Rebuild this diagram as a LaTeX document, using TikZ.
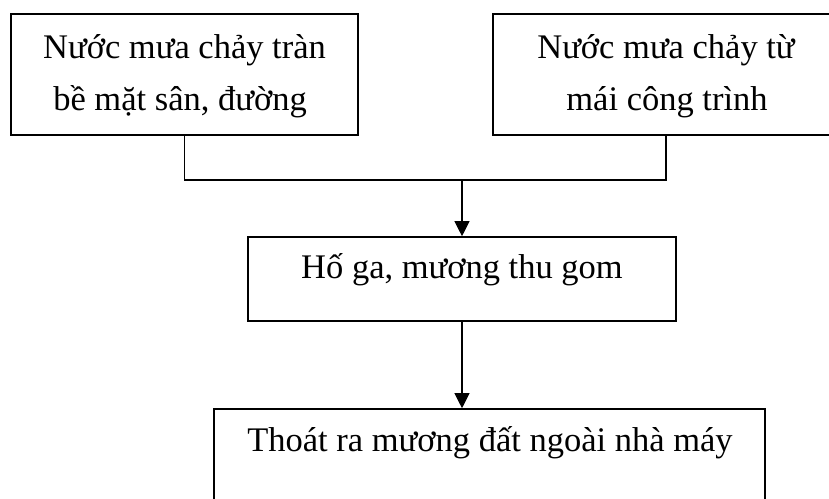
\documentclass[tikz,border=0pt]{standalone}
\usepackage{fontspec}
\setmainfont{Liberation Serif}
\usetikzlibrary{arrows.meta}
\begin{document}
\begin{tikzpicture}[x=1pt,y=-1pt,
  box/.style={draw, line width=1.6pt, minimum width=#1, inner sep=0pt},
  txt/.style={anchor=base, inner sep=0pt, font=\fontsize{34.5}{52}\selectfont},
  conn/.style={line width=1.1pt},
  arr/.style={line width=1.1pt, -{Triangle[width=15pt,length=15pt]}}]
\useasboundingbox (0,0) rectangle (829,498);
\clip (0,0) rectangle (829,498);
\fill[white] (0,0) rectangle (829,498);
% boxes
\node[box=347pt, minimum height=121pt] (b1) at (184.5,74.5) {};
\node[box=346pt, minimum height=121pt] (b2) at (666,74.5) {};
\node[box=428pt, minimum height=84pt] (b3) at (462,279) {};
\node[box=551pt, minimum height=121pt] (b4) at (489.5,469.5) {};
% texts
\node[txt] (t1a) at (184.5,58) {Nước mưa chảy tràn};
\node[txt] (t1b) at (180,110) {bề mặt sân, đường};
\node[txt] (t2a) at (666,58) {Nước mưa chảy từ};
\node[txt] (t2b) at (667,110) {mái công trình};
\node[txt] (t3) at (462,278) {Hố ga, mương thu gom};
\node[txt] (t4) at (490,451) {Thoát ra mương đất ngoài nhà máy};
% connectors
\coordinate (j) at (462,180);
\draw[conn] (b1.south) -- (b1.south |- j) -- (b2.south |- j) -- (b2.south);
\draw[arr] (j) -- (b3.north);
\draw[arr] (b3.south) -- (b3.south |- b4.north);
\end{tikzpicture}
\end{document}
